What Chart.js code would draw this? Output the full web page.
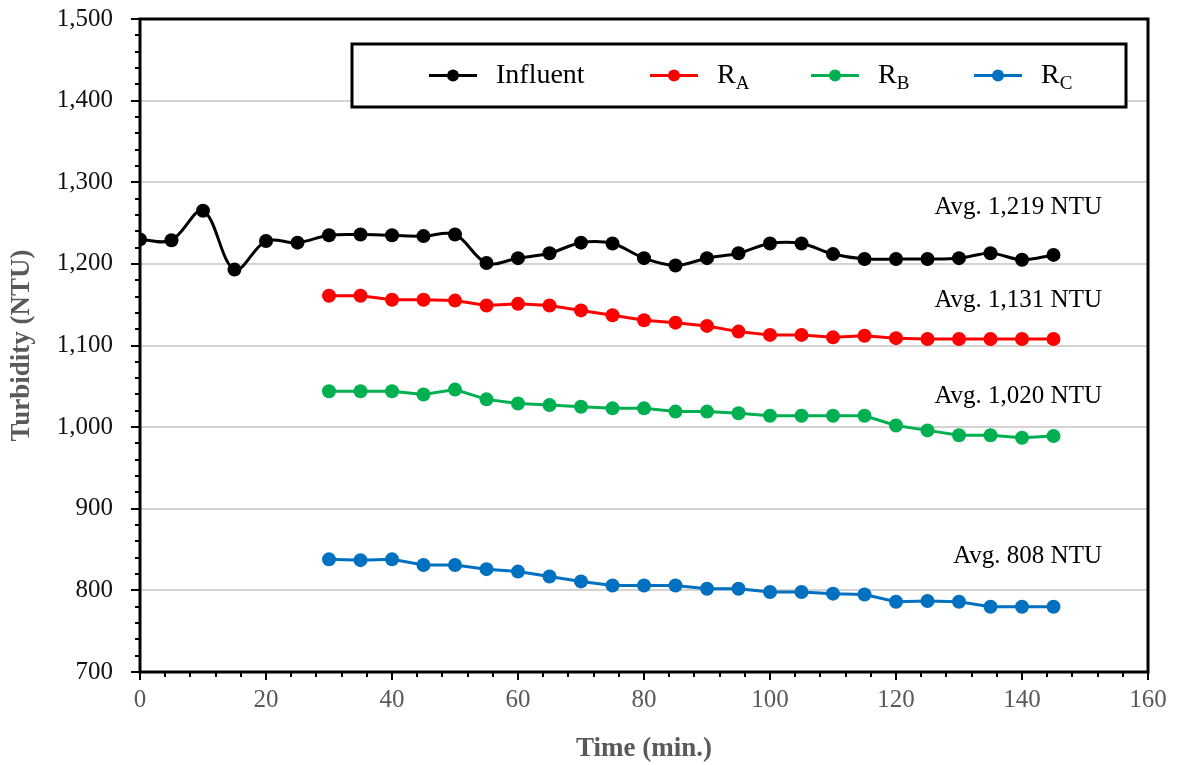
<!DOCTYPE html>
<html>
<head>
<meta charset="utf-8">
<script src="https://cdn.jsdelivr.net/npm/chart.js@4"></script>
<style>
  html, body { margin: 0; padding: 0; background: #fff; }
  canvas { display: block; }
</style>
</head>
<body>
<canvas id="turbidityChart" width="1178" height="765"></canvas>
<script>
// time (min.)
const influentTimes = [0, 5, 10, 15, 20, 25, 30, 35, 40, 45, 50, 55, 60, 65, 70, 75, 80, 85, 90, 95, 100, 105, 110, 115, 120, 125, 130, 135, 140, 145];
const reactorTimes = [30, 35, 40, 45, 50, 55, 60, 65, 70, 75, 80, 85, 90, 95, 100, 105, 110, 115, 120, 125, 130, 135, 140, 145];

// turbidity (NTU)
const influent = [1230, 1229, 1265, 1193, 1228, 1226, 1235, 1236, 1235, 1234, 1236, 1201, 1207, 1213, 1226, 1225, 1207, 1198, 1207, 1213, 1225, 1225, 1212, 1206, 1206, 1206, 1207, 1213, 1205, 1211];
const rA = [1161, 1161, 1156, 1156, 1155, 1149, 1151, 1149, 1143, 1137, 1131, 1128, 1124, 1117, 1113, 1113, 1110, 1112, 1109, 1108, 1108, 1108, 1108, 1108];
const rB = [1044, 1044, 1044, 1040, 1046, 1034, 1029, 1027, 1025, 1023, 1023, 1019, 1019, 1017, 1014, 1014, 1014, 1014, 1002, 996, 990, 990, 987, 989];
const rC = [838, 837, 838, 831, 831, 826, 823, 817, 811, 806, 806, 806, 802, 802, 798, 798, 796, 795, 786, 787, 786, 780, 780, 780];

const seriesNames = ["Influent", "R", "R", "R"];
const seriesSubs = ["", "A", "B", "C"];
const seriesColors = ["#000000", "#FF0000", "#00B050", "#0070C0"];

const avgLabels = ["Avg. 1,219 NTU", "Avg. 1,131 NTU", "Avg. 1,020 NTU", "Avg. 808 NTU"];
const avgLabelY = [1269, 1155, 1038, 842];

const yTicks = [700, 800, 900, 1000, 1100, 1200, 1300, 1400, 1500];
const xTicks = [0, 20, 40, 60, 80, 100, 120, 140, 160];

const SERIF = "'Liberation Serif', 'Times New Roman', serif";

function pts(xs, ys) {
  return ys.map((v, i) => ({ x: xs[i], y: v }));
}

const frame = {
  id: "frame",
  afterDraw(chart) {
    const { ctx, chartArea: a, scales: { x, y } } = chart;
    ctx.save();
    ctx.strokeStyle = "#000";

    // minor / major tick marks
    ctx.lineWidth = 2;
    ctx.beginPath();
    for (let v = 700; v <= 1500; v += 20) {
      const py = Math.round(y.getPixelForValue(v));
      const len = v % 100 === 0 ? 9 : 5;
      ctx.moveTo(a.left - len, py);
      ctx.lineTo(a.left, py);
    }
    for (let v = 0; v <= 160; v += 4) {
      const px = Math.round(x.getPixelForValue(v));
      const len = v % 20 === 0 ? 8 : 5;
      ctx.moveTo(px, a.bottom);
      ctx.lineTo(px, a.bottom + len);
    }
    ctx.stroke();

    // plot border
    ctx.lineWidth = 3;
    ctx.strokeRect(a.left, a.top, a.right - a.left, a.bottom - a.top);

    // average labels
    ctx.fillStyle = "#000";
    ctx.font = "25px " + SERIF;
    ctx.textAlign = "right";
    ctx.textBaseline = "middle";
    avgLabels.forEach((t, i) => {
      ctx.fillText(t, a.right - 46, y.getPixelForValue(avgLabelY[i]));
    });

    // legend
    const lx = 352, ly = 44, lw = 774, lh = 63;
    ctx.fillStyle = "#fff";
    ctx.fillRect(lx, ly, lw, lh);
    ctx.lineWidth = 3;
    ctx.strokeRect(lx, ly, lw, lh);
    const cy = ly + lh / 2;
    const markX = [453, 674, 835, 998];
    seriesNames.forEach((name, i) => {
      ctx.strokeStyle = seriesColors[i];
      ctx.fillStyle = seriesColors[i];
      ctx.lineWidth = 3;
      ctx.beginPath();
      ctx.moveTo(markX[i] - 24, cy);
      ctx.lineTo(markX[i] + 24, cy);
      ctx.stroke();
      ctx.beginPath();
      ctx.arc(markX[i], cy, 6, 0, Math.PI * 2);
      ctx.fill();
      ctx.fillStyle = "#000";
      ctx.textAlign = "left";
      ctx.textBaseline = "middle";
      ctx.font = "28px " + SERIF;
      const tx = markX[i] + 43;
      ctx.fillText(name, tx, cy);
      if (seriesSubs[i]) {
        const w = ctx.measureText(name).width;
        ctx.font = "19px " + SERIF;
        ctx.fillText(seriesSubs[i], tx + w, cy + 9);
      }
    });
    ctx.restore();
  }
};

const datasets = [
  { label: "Influent", data: pts(influentTimes, influent), tension: 0.35 },
  { label: "RA", data: pts(reactorTimes, rA), tension: 0 },
  { label: "RB", data: pts(reactorTimes, rB), tension: 0 },
  { label: "RC", data: pts(reactorTimes, rC), tension: 0 }
].map((d, i) => ({
  ...d,
  borderColor: seriesColors[i],
  backgroundColor: seriesColors[i],
  borderWidth: 3,
  pointRadius: 7,
  pointBorderWidth: 0,
  pointBackgroundColor: seriesColors[i],
  fill: false
}));

new Chart(document.getElementById("turbidityChart"), {
  type: "line",
  data: { datasets },
  options: {
    responsive: false,
    animation: false,
    layout: { padding: { top: 19, right: 30, left: 0, bottom: 0 } },
    plugins: { legend: { display: false }, tooltip: { enabled: false } },
    scales: {
      x: {
        type: "linear",
        min: 0,
        max: 160,
        afterBuildTicks: s => { s.ticks = xTicks.map(v => ({ value: v })); },
        afterFit: s => { s.height = 93; s.paddingLeft = 0; s.paddingRight = 0; },
        grid: { display: false, drawTicks: false },
        border: { display: false },
        ticks: {
          padding: 13,
          color: "#595959",
          font: { family: SERIF, size: 25 }
        },
        title: {
          display: true,
          text: "Time (min.)",
          color: "#595959",
          font: { family: SERIF, size: 27, weight: "bold" },
          padding: { top: 0, bottom: 0 }
        }
      },
      y: {
        min: 700,
        max: 1500,
        afterBuildTicks: s => { s.ticks = yTicks.map(v => ({ value: v })); },
        afterFit: s => { s.width = 140; s.paddingTop = 0; s.paddingBottom = 0; },
        grid: {
          drawTicks: false,
          lineWidth: 2,
          color: c => (c.tick && (c.tick.value === 700 || c.tick.value === 1500)) ? "rgba(0,0,0,0)" : "#d4d4d4"
        },
        border: { display: false },
        ticks: {
          padding: 27,
          color: "#111",
          font: { family: SERIF, size: 25 },
          callback: v => v.toLocaleString("en-US")
        },
        title: {
          display: true,
          text: "Turbidity (NTU)",
          color: "#595959",
          font: { family: SERIF, size: 27, weight: "bold" },
          padding: { top: 6, bottom: 0 }
        }
      }
    }
  },
  plugins: [frame]
});
</script>
</body>
</html>
